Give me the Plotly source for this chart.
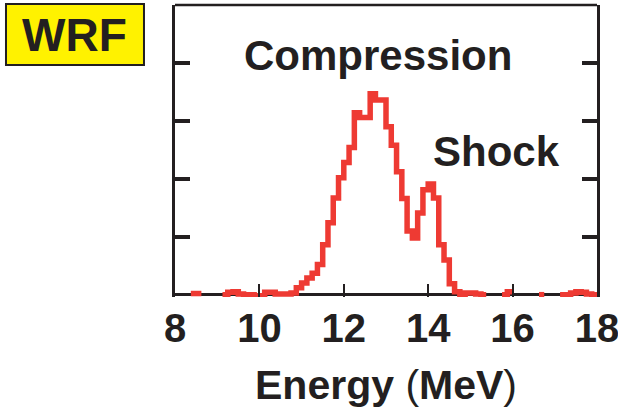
import numpy as np
import plotly.graph_objects as go

# Proton spectrum histogram: 0.125 MeV bins from 8 to 18 MeV (None = no counts drawn)
BIN_WIDTH = 0.125
bin_left = np.round(np.arange(8.0, 18.0, BIN_WIDTH), 4)
counts = [
    None, None, None, 0.02, 0.02, None, None, None, None, 0.0,      # 8.000 - 9.125
    0.04, 0.05, 0.01, 0.0, 0.0, -0.03, -0.02, 0.04, 0.04, 0.01,     # 9.250 - 10.375
    0.01, 0.01, 0.03, 0.12, 0.20, 0.29, 0.37, 0.52, 0.86, 1.24,     # 10.500 - 11.625
    1.67, 2.02, 2.28, 2.54, 3.14, 3.06, 3.06, 3.47, 3.36, 3.36,     # 11.750 - 12.875
    2.90, 2.58, 2.12, 1.66, 1.10, 0.98, 1.41, 1.81, 1.91, 1.67,     # 13.000 - 14.125
    0.86, 0.60, 0.19, 0.05, 0.0, 0.03, 0.03, 0.01, 0.0, None,       # 14.250 - 15.375
    None, None, 0.0, 0.05, None, None, None, None, None, 0.0,       # 15.500 - 16.625
    None, None, None, 0.0, 0.0, 0.03, 0.05, 0.04, 0.01, 0.0,        # 16.750 - 17.875
]

x_ticks = [8, 10, 12, 14, 16, 18]
x_tick_text = ["8", "10", "12", "14", "16", "18"]
y_ticks = [1, 2, 3, 4]
X_RANGE = [8, 18]
Y_RANGE = [-0.04, 5]

INK = "#231f20"
RED = "#ee3a33"
FONT = "Liberation Sans, Arial, Helvetica, sans-serif"

# Build step outline: each run of bins ends at its right edge, runs are separated by gaps
step_x, step_y = [], []
run_open = False
for i, (e, c) in enumerate(zip(bin_left, counts)):
    if c is None:
        if run_open:
            step_x.append(float(e))
            step_y.append(prev)
            step_x.append(None)
            step_y.append(None)
            run_open = False
        continue
    step_x.append(float(e))
    step_y.append(c)
    prev = c
    run_open = True
if run_open:
    step_x.append(float(bin_left[-1] + BIN_WIDTH))
    step_y.append(prev)

fig = go.Figure()
fig.add_trace(go.Scatter(
    x=step_x, y=step_y, mode="lines",
    line=dict(color=RED, width=5.5, shape="hv"),
    connectgaps=False, showlegend=False, hoverinfo="skip",
))

fig.update_layout(
    width=618, height=410,
    margin=dict(l=175, r=21, t=5, b=113, autoexpand=False),
    paper_bgcolor="white", plot_bgcolor="white",
    font=dict(family=FONT, color=INK),
    xaxis=dict(
        range=X_RANGE, tickvals=x_ticks, ticktext=x_tick_text,
        ticks="inside", ticklen=13, tickwidth=2, tickcolor=INK,
        showline=False, showgrid=False, zeroline=False, automargin=False,
        tickfont=dict(family=FONT, size=40, color=INK, weight="bold"),
        ticklabelstandoff=4, ticklabeloverflow="allow",
    ),
    yaxis=dict(
        range=Y_RANGE, tickvals=y_ticks, showticklabels=False,
        ticks="inside", ticklen=15, tickwidth=3.5, tickcolor=INK,
        showline=True, linewidth=2.5, linecolor=INK, mirror="ticks",
        showgrid=False, zeroline=True, zerolinecolor=INK, zerolinewidth=2.5,
        automargin=False,
    ),
)

# Top edge of the frame
fig.add_shape(type="line", xref="paper", yref="paper", x0=0, x1=1, y0=1, y1=1,
              line=dict(color=INK, width=2.5))

# Label box in the upper-left corner
fig.add_shape(type="rect", xref="paper", yref="paper",
              x0=-0.4005, x1=-0.0735, y0=0.7945, y1=1.0034,
              fillcolor="#fff200", line=dict(color=INK, width=2))
fig.add_annotation(xref="paper", yref="paper", x=-0.237, y=0.897,
                   text="<b>WRF</b>", showarrow=False,
                   font=dict(family=FONT, size=46, color=INK),
                   xanchor="center", yanchor="middle")

# Peak labels
fig.add_annotation(x=12.81, y=4.12, text="<b>Compression</b>", showarrow=False,
                   font=dict(family=FONT, size=42, color=INK),
                   xanchor="center", yanchor="middle")
fig.add_annotation(x=15.63, y=2.47, text="<b>Shock</b>", showarrow=False,
                   font=dict(family=FONT, size=42, color=INK),
                   xanchor="center", yanchor="middle")

# Axis title
fig.add_annotation(xref="paper", yref="paper", x=0.5, y=-0.303,
                   text="<b>Energy </b>(<b>MeV</b>)", showarrow=False,
                   font=dict(family=FONT, size=41, color=INK),
                   xanchor="center", yanchor="middle")

fig.write_html("out.html")
